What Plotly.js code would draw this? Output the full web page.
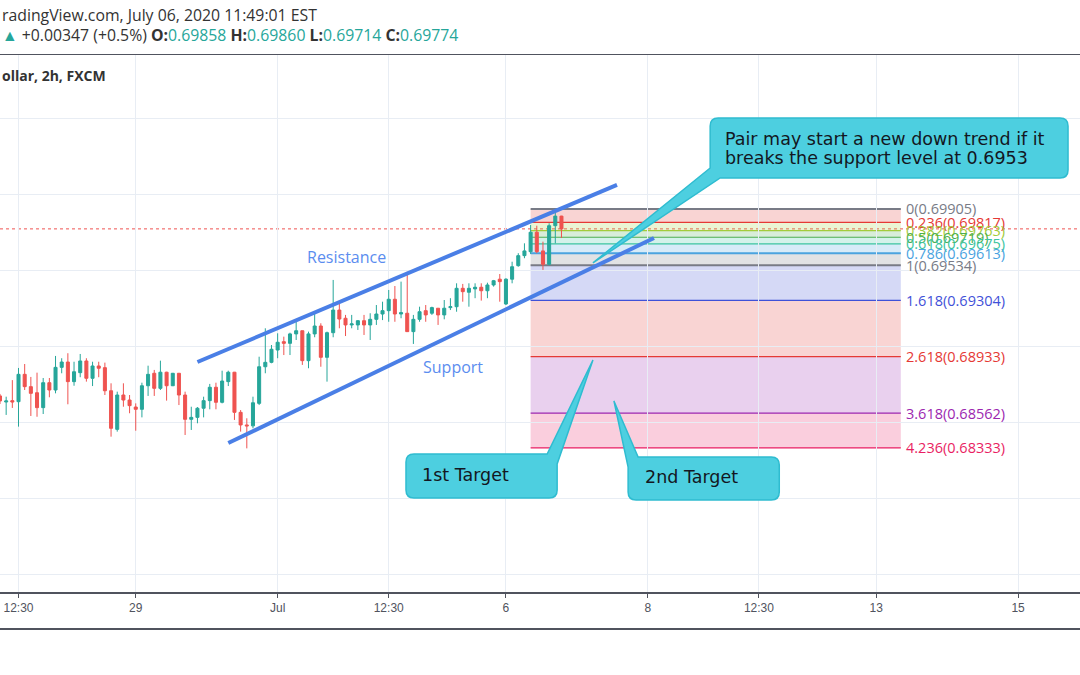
<!DOCTYPE html>
<html>
<head>
<meta charset="utf-8">
<script src="https://cdn.plot.ly/plotly-3.0.1.min.js"></script>
<style>
  html, body { margin: 0; padding: 0; background: #fff; }
  #chart { width: 1080px; height: 675px; }
</style>
</head>
<body>
<div id="chart"></div>
<script>
// AUD/USD 2h candles
const openPrice = [0.68675, 0.68635, 0.68644, 0.68637, 0.68817, 0.68736, 0.68696, 0.68598, 0.68762, 0.68714,
  0.68863, 0.68898, 0.68769, 0.68828, 0.68905, 0.68791, 0.68872, 0.68861, 0.68709, 0.68455,
  0.68681, 0.68648, 0.68602, 0.68587, 0.68742, 0.68824, 0.68725, 0.68831, 0.68742, 0.68824,
  0.68681, 0.68521, 0.68534, 0.68594, 0.68644, 0.68732, 0.68633, 0.68769, 0.68831, 0.68567,
  0.68484, 0.68478, 0.68626, 0.68867, 0.68896, 0.68977, 0.69032, 0.69021, 0.69083, 0.69104,
  0.68907, 0.69083, 0.69135, 0.68929, 0.69091, 0.69240, 0.69186, 0.69142, 0.69142, 0.69170,
  0.69142, 0.69179, 0.69214, 0.69236, 0.69311, 0.69214, 0.69219, 0.69098, 0.69179, 0.69236,
  0.69219, 0.69252, 0.69208, 0.69256, 0.69262, 0.69383, 0.69357, 0.69379, 0.69390, 0.69367,
  0.69405, 0.69443, 0.69280, 0.69443, 0.69532, 0.69598, 0.69624, 0.69752, 0.69629, 0.69541,
  0.69795, 0.69858];
const highPrice = [0.68688, 0.68670, 0.68779, 0.68859, 0.68885, 0.68800, 0.68828, 0.68793, 0.68793, 0.68938,
  0.68923, 0.68956, 0.68900, 0.68951, 0.68923, 0.68900, 0.68900, 0.68894, 0.68758, 0.68703,
  0.68758, 0.68681, 0.68626, 0.68762, 0.68874, 0.68846, 0.68907, 0.68834, 0.68826, 0.68826,
  0.68703, 0.68604, 0.68602, 0.68670, 0.68754, 0.68762, 0.68841, 0.68841, 0.68833, 0.68582,
  0.68528, 0.68670, 0.68933, 0.69120, 0.69010, 0.69087, 0.69065, 0.69091, 0.69163, 0.69104,
  0.69098, 0.69219, 0.69153, 0.69098, 0.69438, 0.69295, 0.69208, 0.69208, 0.69174, 0.69208,
  0.69219, 0.69273, 0.69295, 0.69372, 0.69398, 0.69427, 0.69492, 0.69208, 0.69262, 0.69273,
  0.69262, 0.69252, 0.69306, 0.69318, 0.69416, 0.69412, 0.69416, 0.69416, 0.69416, 0.69420,
  0.69438, 0.69477, 0.69449, 0.69558, 0.69614, 0.69679, 0.69800, 0.69795, 0.69690, 0.69811,
  0.69905, 0.69860];
const lowPrice = [0.68622, 0.68550, 0.68596, 0.68473, 0.68714, 0.68543, 0.68538, 0.68556, 0.68666, 0.68692,
  0.68824, 0.68620, 0.68742, 0.68798, 0.68769, 0.68740, 0.68798, 0.68681, 0.68407, 0.68440,
  0.68604, 0.68561, 0.68446, 0.68534, 0.68675, 0.68675, 0.68714, 0.68644, 0.68740, 0.68615,
  0.68418, 0.68451, 0.68495, 0.68534, 0.68587, 0.68587, 0.68626, 0.68740, 0.68517, 0.68440,
  0.68330, 0.68462, 0.68615, 0.68824, 0.68890, 0.68923, 0.68944, 0.68944, 0.69043, 0.68879,
  0.68857, 0.69061, 0.68867, 0.68769, 0.69061, 0.69120, 0.69069, 0.69120, 0.69109, 0.69076,
  0.69043, 0.69142, 0.69174, 0.69163, 0.69163, 0.69186, 0.69098, 0.69017, 0.69163, 0.69163,
  0.69208, 0.69142, 0.69179, 0.69240, 0.69229, 0.69295, 0.69262, 0.69318, 0.69302, 0.69318,
  0.69394, 0.69295, 0.69273, 0.69416, 0.69525, 0.69581, 0.69609, 0.69614, 0.69504, 0.69534,
  0.69679, 0.69714];
const closePrice = [0.68642, 0.68642, 0.68635, 0.68817, 0.68736, 0.68692, 0.68598, 0.68762, 0.68714, 0.68863,
  0.68898, 0.68769, 0.68834, 0.68905, 0.68791, 0.68872, 0.68857, 0.68709, 0.68462, 0.68681,
  0.68648, 0.68611, 0.68587, 0.68742, 0.68817, 0.68725, 0.68831, 0.68742, 0.68824, 0.68681,
  0.68521, 0.68534, 0.68594, 0.68644, 0.68732, 0.68633, 0.68773, 0.68831, 0.68567, 0.68484,
  0.68478, 0.68630, 0.68867, 0.68896, 0.68982, 0.69028, 0.69021, 0.69083, 0.69104, 0.68907,
  0.69083, 0.69135, 0.68929, 0.69091, 0.69240, 0.69181, 0.69142, 0.69149, 0.69170, 0.69142,
  0.69179, 0.69214, 0.69236, 0.69311, 0.69214, 0.69223, 0.69098, 0.69179, 0.69229, 0.69208,
  0.69256, 0.69208, 0.69252, 0.69262, 0.69383, 0.69361, 0.69383, 0.69390, 0.69367, 0.69405,
  0.69433, 0.69427, 0.69443, 0.69525, 0.69598, 0.69629, 0.69752, 0.69624, 0.69541, 0.69795,
  0.69858, 0.69774];
const barIndex = openPrice.map((_, i) => i);

const tickIndex = [3, 22, 45, 63, 82, 105, 123, 142, 165];
const tickLabels = ["12:30", "29", "Jul", "12:30", "6", "8", "12:30", "13", "15"];

// fib retracement drawn from bar 86
const fibRatios = ["0", "0.236", "0.382", "0.5", "0.618", "0.786", "1", "1.618", "2.618", "3.618", "4.236"];
const fibPrices = [0.69905, 0.69817, 0.69763, 0.69719, 0.69675, 0.69613, 0.69534, 0.69304, 0.68933, 0.68562, 0.68333];
const fibColors = ["#787b86", "#e53935", "#a2cc3a", "#4caf50", "#3cc4a0", "#4aa3df", "#787b86", "#3f51d8", "#e53935", "#9c27b0", "#e91e63"];
const fibSpan = [86, 146];

const lastPrice = 0.69774;

const resistanceX = [32, 100];
const resistanceY = [0.68898, 0.70063];
const supportX = [37, 106];
const supportY = [0.68365, 0.69714];
const channelLabels = ["Resistance", "Support"];
const channelLabelX = [56.2, 73.4];
const channelLabelY = [0.69589, 0.68865];

const calloutText = [["Pair may start a new down trend if it", "breaks the support level at 0.6953"], ["1st Target"], ["2nd Target"]];
const calloutBoxX = [[115.1, 173.1], [65.8, 90.3], [101.8, 126.3]];
const calloutBoxY = [[0.70109, 0.70504], [0.68003, 0.68293], [0.67990, 0.68273]];
const calloutTip = [[96.1, 0.69550], [96.1, 0.68911], [99.5, 0.68642]];
const calloutCorner = ["bl", "tr", "tl"];
const calloutTextX = [117.2, 68.1, 104.2];
const calloutTextY = [0.70306, 0.68155, 0.68142];

const xRange = [0, 175.04];
const yRange = [0.67385, 0.70918];

const green = "#26a69a";
const red = "#ef5350";
const font = "Open Sans, sans-serif";

// size of one pixel in data units, used for rounded corners and wedge bases
const plotW = 1080, plotH = 537;
const xPx = (xRange[1] - xRange[0]) / plotW;
const yPx = (yRange[1] - yRange[0]) / plotH;

function rgba(hex, a) {
  const n = parseInt(hex.slice(1), 16);
  return `rgba(${(n >> 16) & 255},${(n >> 8) & 255},${n & 255},${a})`;
}

function calloutPath(k) {
  const [L, R] = calloutBoxX[k];
  const [B, T] = calloutBoxY[k];
  const tip = calloutTip[k];
  const r = 8, w = 10;
  const corners = {
    tr: { c: [R, T], entry: (o) => [R - o * xPx, T], exit: (o) => [R, T - o * yPx] },
    br: { c: [R, B], entry: (o) => [R, B + o * yPx], exit: (o) => [R - o * xPx, B] },
    bl: { c: [L, B], entry: (o) => [L + o * xPx, B], exit: (o) => [L, B + o * yPx] },
    tl: { c: [L, T], entry: (o) => [L, T - o * yPx], exit: (o) => [L + o * xPx, T] },
  };
  const p = (pt) => `${pt[0]},${pt[1]}`;
  const startO = calloutCorner[k] === "tl" ? w : r;
  let d = `M ${p(corners.tl.exit(startO))}`;
  ["tr", "br", "bl", "tl"].forEach((name) => {
    const c = corners[name];
    if (name === calloutCorner[k]) {
      d += ` L ${p(c.entry(w))} L ${p(tip)} L ${p(c.exit(w))}`;
    } else {
      d += ` L ${p(c.entry(r))} Q ${p(c.c)} ${p(c.exit(r))}`;
    }
  });
  return d + " Z";
}

const shapes = [];
const annotations = [];

// fib zones and levels
for (let j = 0; j < fibPrices.length - 1; j++) {
  shapes.push({
    type: "rect", xref: "x", yref: "y", layer: "below",
    x0: fibSpan[0], x1: fibSpan[1], y0: fibPrices[j + 1], y1: fibPrices[j],
    fillcolor: rgba(fibColors[j + 1], 0.22), line: { width: 0 },
  });
}
fibPrices.forEach((price, j) => {
  shapes.push({
    type: "line", xref: "x", yref: "y", layer: "below",
    x0: fibSpan[0], x1: fibSpan[1], y0: price, y1: price,
    line: { color: fibColors[j], width: (j === 0 || j === 5 || j === 6) ? 2 : 1.2 },
  });
  annotations.push({
    xref: "x", yref: "y", x: fibSpan[1], y: price, xanchor: "left", yanchor: "middle",
    xshift: 3, showarrow: false,
    text: `${fibRatios[j]}(${price.toFixed(5)})`,
    font: { family: font, size: 14.5, color: fibColors[j] },
  });
});

// last price line
shapes.push({
  type: "line", xref: "paper", yref: "y", x0: 0, x1: 1, y0: lastPrice, y1: lastPrice,
  line: { color: red, width: 1, dash: "dot" }, layer: "below",
});

// bottom border under time labels
shapes.push({
  type: "line", xref: "paper", yref: "paper", x0: 0, x1: 1, y0: -0.069, y1: -0.069,
  line: { color: "#50535e", width: 2 },
});

// callouts
calloutText.forEach((lines, k) => {
  shapes.push({
    type: "path", xref: "x", yref: "y", layer: "above",
    path: calloutPath(k),
    fillcolor: "#4dcfe0", line: { color: "#2fbcd0", width: 1.5 },
  });
  lines.forEach((txt, n) => {
    annotations.push({
      xref: "x", yref: "y", x: calloutTextX[k], y: calloutTextY[k],
      yshift: ((lines.length - 1) / 2 - n) * 19,
      xanchor: "left", yanchor: "middle", align: "left", showarrow: false,
      text: txt, font: { family: "DejaVu Sans, sans-serif", size: 17.5, color: "#131722" },
    });
  });
});

channelLabels.forEach((txt, k) => {
  annotations.push({
    xref: "x", yref: "y", x: channelLabelX[k], y: channelLabelY[k], showarrow: false,
    text: txt, font: { family: font, size: 16, color: "#5b8def" },
  });
});

// header
annotations.push(
  {
    xref: "paper", yref: "paper", x: 0, y: 1.0745, xanchor: "left", yanchor: "middle", showarrow: false,
    text: "radingView.com, July 06, 2020 11:49:01 EST",
    font: { family: font, size: 15.8, color: "#333" },
  },
  {
    xref: "paper", yref: "paper", x: 0, y: 1.037, xanchor: "left", yanchor: "middle", showarrow: false,
    text: `<span style="color:${green}">▲</span> +0.00347 (+0.5%) <b>O:</b><span style="color:${green}">0.69858</span> ` +
      `<b>H:</b><span style="color:${green}">0.69860</span> <b>L:</b><span style="color:${green}">0.69714</span> ` +
      `<b>C:</b><span style="color:${green}">0.69774</span>`,
    font: { family: font, size: 15.8, color: "#333" },
  },
  {
    xref: "paper", yref: "paper", x: 0, y: 0.961, xanchor: "left", yanchor: "middle", showarrow: false,
    text: "<b>ollar, 2h, FXCM</b>",
    font: { family: font, size: 14, color: "#333" },
  }
);

const traces = [
  {
    type: "candlestick",
    x: barIndex, open: openPrice, high: highPrice, low: lowPrice, close: closePrice,
    increasing: { line: { color: green, width: 1 }, fillcolor: green },
    decreasing: { line: { color: red, width: 1 }, fillcolor: red },
    hoverinfo: "skip", showlegend: false,
  },
  {
    type: "scatter", mode: "lines", x: resistanceX, y: resistanceY,
    line: { color: "#4a7fe6", width: 4 }, hoverinfo: "skip", showlegend: false,
  },
  {
    type: "scatter", mode: "lines", x: supportX, y: supportY,
    line: { color: "#4a7fe6", width: 4 }, hoverinfo: "skip", showlegend: false,
  },
];

const layout = {
  width: 1080, height: 675,
  margin: { l: 0, r: 0, t: 55, b: 83, pad: 0 },
  paper_bgcolor: "#ffffff", plot_bgcolor: "#ffffff",
  showlegend: false,
  xaxis: {
    range: xRange, rangeslider: { visible: false },
    tickmode: "array", tickvals: tickIndex, ticktext: tickLabels,
    showgrid: true, gridcolor: "#e8edf4", gridwidth: 1,
    showline: true, linecolor: "#50535e", linewidth: 1.5, mirror: true,
    ticks: "outside", ticklen: 4, tickcolor: "#50535e",
    tickfont: { family: "Liberation Sans, sans-serif", size: 12, color: "#50535e" },
    zeroline: false, fixedrange: true,
  },
  yaxis: {
    range: yRange, dtick: 0.005, tick0: 0,
    showticklabels: false, showgrid: true, gridcolor: "#e8edf4", gridwidth: 1,
    zeroline: false, showline: false, fixedrange: true,
  },
  shapes: shapes,
  annotations: annotations,
};

Plotly.newPlot("chart", traces, layout, { staticPlot: true, displayModeBar: false });
</script>
</body>
</html>
